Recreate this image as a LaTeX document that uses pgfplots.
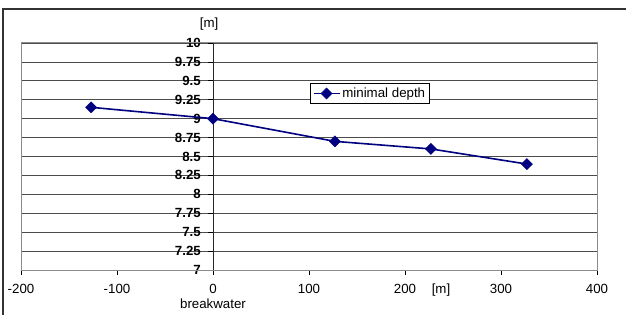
\documentclass[border=0pt]{standalone}
\usepackage{pgfplots}
\pgfplotsset{compat=1.18}
\usepackage{fontspec}
\setmainfont{Liberation Sans}
\definecolor{navy}{RGB}{0,0,128}
\begin{document}
\begin{tikzpicture}[x=1bp,y=1bp]
\useasboundingbox (0,0) rectangle (626,314);
\fill[white] (0,0) rectangle (626,314);
\draw[black!80, line width=1.5bp] (3,-2) -- (3,305) -- (628,305);
\begin{axis}[
  at={(21bp,44bp)}, anchor=south west,
  x=0.96bp, y=75.667bp,
  xmin=-200, xmax=400, ymin=7, ymax=10,
  axis x line=bottom, axis y line=middle,
  x axis line style={-, black, line width=1bp},
  y axis line style={-, black!85, line width=1bp},
  hide obscured x ticks=false, hide obscured y ticks=false,
  xtick={-200,-100,0,100,200,300,400},
  xticklabels={-200,-100,0,100,200,300,400},
  ytick={7,7.25,7.5,7.75,8,8.25,8.5,8.75,9,9.25,9.5,9.75,10},
  yticklabels={7,7.25,7.5,7.75,8,8.25,8.5,8.75,9,9.25,9.5,9.75,10},
  tick align=outside, major tick length=5bp,
  tick style={black, line width=0.8bp},
  every tick label/.append style={inner sep=0pt, font=\fontsize{13.3bp}{15bp}\selectfont},
  xticklabel style={anchor=center, yshift=-14bp},
  yticklabel style={anchor=east, xshift=-7bp, font=\fontsize{13.3bp}{15bp}\selectfont\bfseries},
  ymajorgrids=true,
  grid style={black!70, line width=0.8bp},
  clip=false,
  legend style={at={(axis cs:163.5,9.333)}, anchor=center, draw=black, line width=0.8bp,
    fill=white, font=\fontsize{13.3bp}{15bp}\selectfont, inner sep=2.5bp,
    legend cell align=left},
  legend image code/.code={\draw[mark repeat=2,mark phase=2,#1] plot coordinates {(0bp,0bp) (13bp,0bp) (26bp,0bp)};},
]
\draw[black!45, line width=1bp] (rel axis cs:0,0) rectangle (rel axis cs:1,1);
\addplot[navy, line width=1.6bp, mark=square*, mark size=3.9bp,
  mark options={rotate=45, fill=navy, draw=navy, line width=0.5bp}]
  coordinates {(-127,9.15) (0,9.0) (127,8.7) (227,8.6) (327,8.4)};
\addlegendentry{minimal depth}
\node[anchor=center, font=\fontsize{13.3bp}{15bp}\selectfont] at (axis cs:0,7) [yshift=-33.5bp] {breakwater};
\node[anchor=center, font=\fontsize{13.3bp}{15bp}\selectfont] at (axis cs:237.5,7) [yshift=-20bp] {[m]};
\node[anchor=center, font=\fontsize{13.3bp}{15bp}\selectfont] at (axis cs:-4,10) [yshift=19bp] {[m]};
\end{axis}
\end{tikzpicture}
\end{document}
